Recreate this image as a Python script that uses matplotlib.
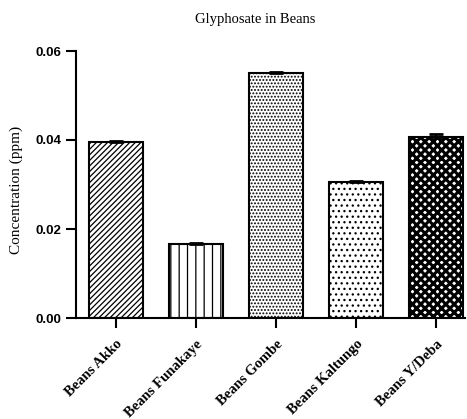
import matplotlib
matplotlib.use('Agg')
import matplotlib.pyplot as plt

categories = ['Beans Akko', 'Beans Funakaye', 'Beans Gombe', 'Beans Kaltungo', 'Beans Y/Deba']
means = [0.0396, 0.0166, 0.0550, 0.0306, 0.0406]
errors = [0.0002, 0.0002, 0.0003, 0.0002, 0.0008]
hatches = ['//////', '||', '.....', '...', 'xxxx']

fig = plt.figure(figsize=(4.67, 4.19), dpi=100)
ax = fig.add_axes([76 / 467, 101 / 419, 389 / 467, 267 / 419])

for i in range(len(categories)):
    plt.rcParams['hatch.linewidth'] = 2.2 if i == 4 else 0.9
    ax.bar(i, means[i], width=0.675, color='white', edgecolor='black',
           linewidth=1.5, hatch=hatches[i], zorder=2)
    ax.errorbar(i, means[i], yerr=[[0], [errors[i]]], fmt='none', ecolor='black',
                elinewidth=1.5, capsize=5, capthick=2, zorder=3)

ax.set_xlim(-0.5, 4.36)
ax.set_ylim(0, 0.06)
ax.set_yticks([0.0, 0.02, 0.04, 0.06])
ax.set_yticklabels(['0.00', '0.02', '0.04', '0.06'], fontfamily='Liberation Sans',
                   fontweight='bold', fontsize=9.5)
ax.set_xticks(range(len(categories)))
ax.set_xticklabels(categories, rotation=45, ha='right', rotation_mode='anchor',
                   fontfamily='Liberation Serif', fontweight='bold', fontsize=10.5)
ax.spines['top'].set_visible(False)
ax.spines['right'].set_visible(False)
ax.spines['left'].set_linewidth(1.5)
ax.spines['bottom'].set_linewidth(1.5)
ax.tick_params(width=1.5, length=7)
ax.tick_params(axis='x', pad=7)
ax.set_ylabel('Concentration (ppm)', fontfamily='Liberation Serif', fontsize=11)
ax.yaxis.set_label_coords(-53 / 389, (318 - 190) / 267)
fig.text(255 / 467, 1 - 20 / 419, 'Glyphosate in Beans', ha='center', va='center',
         fontfamily='Liberation Serif', fontsize=10.5)

fig.savefig('out.png', dpi=100)
